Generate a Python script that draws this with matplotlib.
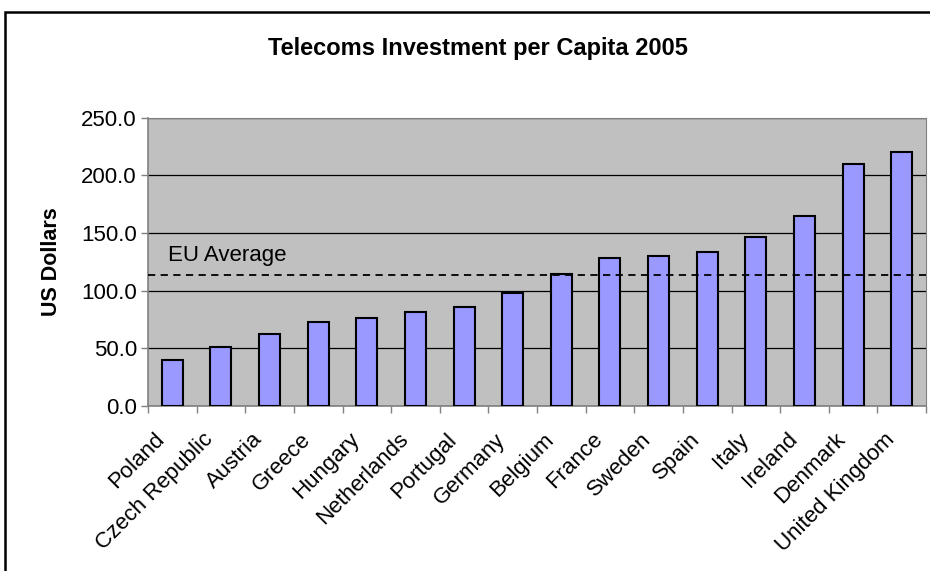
import matplotlib
matplotlib.use("Agg")
import matplotlib.pyplot as plt
import matplotlib.transforms as mtransforms
from matplotlib.patches import Rectangle

plt.rcParams["font.family"] = ["Liberation Sans", "DejaVu Sans"]

countries = ["Poland", "Czech Republic", "Austria", "Greece", "Hungary",
             "Netherlands", "Portugal", "Germany", "Belgium", "France",
             "Sweden", "Spain", "Italy", "Ireland", "Denmark", "United Kingdom"]
invest = [39.6, 51.4, 62.3, 72.8, 76.0, 81.3, 86.1, 98.3, 114.5, 128.1,
          129.8, 133.3, 146.8, 164.5, 209.6, 220.0]
eu_average = 113.6
yticks = [0, 50, 100, 150, 200, 250]

fig = plt.figure(figsize=(9.3, 5.71), dpi=100)
# outer chart frame
fig.patches.append(Rectangle((5 / 930, -0.05), 1.0, 1 - 12 / 571 + 0.05,
                             transform=fig.transFigure, fill=False,
                             edgecolor="black", lw=1.8))

ax = fig.add_axes([148 / 930, 1 - 406 / 571, 778 / 930, (406 - 117.7) / 571])
ax.set_facecolor("#C0C0C0")

x = range(len(countries))
ax.bar(x, invest, width=0.43, color="#9999FF", edgecolor="black", lw=1.5, zorder=3)
ax.axhline(eu_average, color="black", ls=(0, (4, 3)), lw=1.3, zorder=4)
ax.text(-0.08, 130.5, "EU Average", fontsize=16, va="center", ha="left")

ax.set_ylim(0, 250)
ax.set_xlim(-0.5, len(countries) - 0.5)
ax.set_yticks(yticks)
ax.set_yticklabels([f"{v:.1f}" for v in yticks], fontsize=16)
ax.yaxis.grid(True, color="black", lw=0.9, zorder=1)
ax.set_axisbelow(True)

# tick marks sit between categories, labels drawn by hand (Excel style)
ax.set_xticks([i + 0.5 for i in range(-1, len(countries))])
ax.set_xticklabels([])
ax.tick_params(axis="x", length=5, color="#808080", width=1)
ax.tick_params(axis="y", length=5, color="#808080", width=1, pad=3)

lab_tr = ax.get_xaxis_transform() + mtransforms.ScaledTranslation(
    -18 / 100, -23 / 100, fig.dpi_scale_trans)
for i, name in zip(x, countries):
    ax.text(i, 0, name, transform=lab_tr, rotation=45, ha="right", va="top",
            rotation_mode="anchor", fontsize=16, clip_on=False)

for s in ["top", "right"]:
    ax.spines[s].set_color("#808080")
for s in ["left", "bottom"]:
    ax.spines[s].set_color("#808080")
    ax.spines[s].set_linewidth(1.2)

ax.set_ylabel("US Dollars", fontsize=15.5, fontweight="bold", labelpad=14)
fig.text(478 / 930, 1 - 48 / 571, "Telecoms Investment per Capita 2005",
         fontsize=17, fontweight="bold", ha="center", va="center")

fig.savefig("out.png", dpi=100)
